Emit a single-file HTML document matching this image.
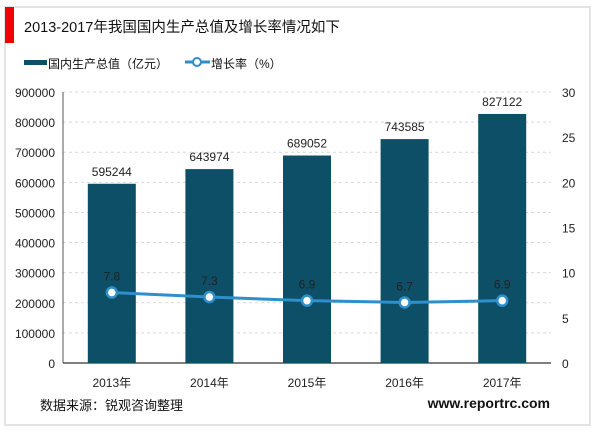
<!DOCTYPE html>
<html><head><meta charset="utf-8"><style>
body{margin:0;width:600px;height:433px;background:#fff;font-family:"Liberation Sans","Noto Sans CJK SC",sans-serif;overflow:hidden}
</style></head><body>
<svg width="600" height="433" xmlns="http://www.w3.org/2000/svg" font-family="Liberation Sans, Noto Sans CJK SC, sans-serif">
<rect x="5" y="7" width="585" height="418" fill="#fff" stroke="#e4e4e4" stroke-width="2"/>
<rect x="5" y="7" width="9" height="36" fill="#f00000"/>
<text x="24" y="32" font-size="14.5" fill="#111">2013-2017年我国国内生产总值及增长率情况如下</text>
<g>
<rect x="24" y="60" width="23" height="5" fill="#0c4f66"/>
<text x="48" y="68" font-size="12" fill="#111">国内生产总值（亿元）</text>
<line x1="185" y1="62" x2="210" y2="62" stroke="#2e8fcb" stroke-width="3"/>
<circle cx="197" cy="62" r="4" fill="#fff" stroke="#2e8fcb" stroke-width="2"/>
<text x="211" y="68" font-size="12" fill="#111">增长率（%）</text>
</g>
<g id="plot"></g>
<text x="40" y="410" font-size="13" fill="#111">数据来源：锐观咨询整理</text>
<text x="550" y="408" font-size="14" font-weight="bold" fill="#111" text-anchor="end">www.reportrc.com</text>
</svg>
<script>
const categories=["2013年","2014年","2015年","2016年","2017年"];
const gdpValues=[595244,643974,689052,743585,827122];
const rateValues=[7.8,7.3,6.9,6.7,6.9];
const leftTicks=[0,100000,200000,300000,400000,500000,600000,700000,800000,900000];
const rightTicks=[0,5,10,15,20,25,30];
const NS="http://www.w3.org/2000/svg";
const g=document.getElementById('plot');
const X0=63,X1=551,Y0=363,Y1=92;
const yL=v=>Y0-(v/900000)*(Y0-Y1);
const yR=v=>Y0-(v/30)*(Y0-Y1);
const bw=(X1-X0)/categories.length;
const xc=i=>X0+bw*(i+0.5);
function mk(tag,attrs,text){const e=document.createElementNS(NS,tag);for(const k in attrs)e.setAttribute(k,attrs[k]);if(text!=null)e.textContent=text;g.appendChild(e);return e;}
leftTicks.forEach(t=>{
 if(t>0){const l=mk('line',{x1:X0,x2:X1,y1:yL(t),y2:yL(t),stroke:'#d9d9d9','stroke-dasharray':'3,3'});
 
 }
 const tx=mk('text',{x:55,y:yL(t)+5,'font-size':12,'text-anchor':'end',fill:'#222'},t);
 
 
});
rightTicks.forEach(t=>{
 const tx=mk('text',{x:562,y:yR(t)+5,'font-size':12,'text-anchor':'start',fill:'#222'},t);
 
 
});
const ax=mk('line',{x1:X0,x2:X0,y1:Y1,y2:Y0,stroke:'#555','stroke-width':1});


const xa=mk('line',{x1:X0,x2:X1,y1:Y0,y2:Y0,stroke:'#555','stroke-width':1.5});


const barW=48;
gdpValues.forEach((v,i)=>{
 const r=mk('rect',{x:xc(i)-barW/2,y:yL(v),width:barW,height:Y0-yL(v),fill:'#0c4f66'});
 
 
 const t=mk('text',{x:xc(i),y:yL(v)-8,'font-size':12,'text-anchor':'middle',fill:'#222'},v);
 
 
 const c=mk('text',{x:xc(i),y:387,'font-size':12,'text-anchor':'middle',fill:'#222'},categories[i]);
 
 
});
const pl=mk('polyline',{points:rateValues.map((v,i)=>xc(i)+','+yR(v)).join(' '),fill:'none',stroke:'#2e8fcb','stroke-width':3});


rateValues.forEach((v,i)=>{
 const c=mk('circle',{cx:xc(i),cy:yR(v),r:5,fill:'#fff',stroke:'#2e8fcb','stroke-width':2.5});
 
 
 const t=mk('text',{x:xc(i),y:yR(v)-12,'font-size':12,'text-anchor':'middle',fill:'#222'},v);
 
 
});
</script>
</body></html>
